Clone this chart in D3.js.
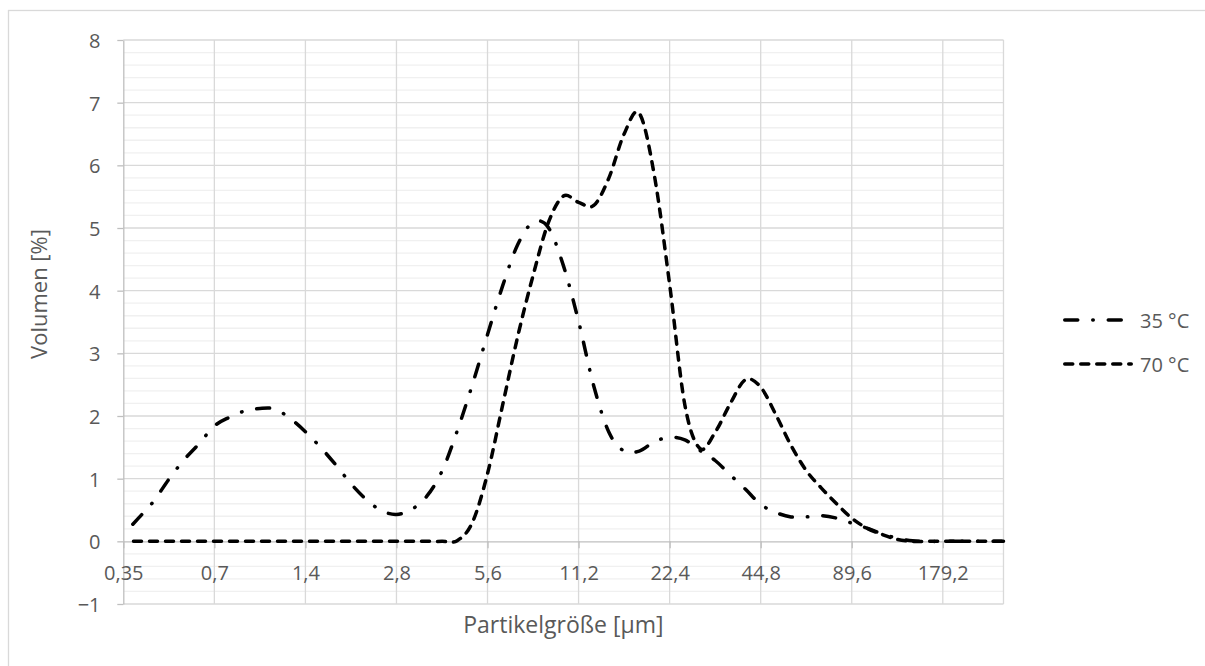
<!DOCTYPE html>
<html>
<head>
<meta charset="utf-8">
<script src="https://cdn.jsdelivr.net/npm/d3@7"></script>
<style>
    body { margin: 0; background: #fff; }
    svg text { font-family: "Open Sans", sans-serif; fill: #595959; }
</style>
</head>
<body>
<svg id="chart" width="1205" height="666"></svg>
<script>
// particle size classes (µm), Excel shows every 6th label
const categories = [
    "0,35", "0,39", "0,44", "0,5", "0,56", "0,62",
    "0,7", "0,79", "0,88", "0,99", "1,11", "1,25",
    "1,4", "1,57", "1,76", "1,98", "2,22", "2,49",
    "2,8", "3,14", "3,53", "3,96", "4,45", "4,99",
    "5,6", "6,29", "7,06", "7,92", "8,89", "9,98",
    "11,2", "12,57", "14,11", "15,84", "17,78", "19,96",
    "22,4", "25,14", "28,22", "31,68", "35,56", "39,91",
    "44,8", "50,29", "56,45", "63,36", "71,12", "79,82",
    "89,6", "100,6", "112,9", "126,7", "142,2", "159,6",
    "179,2", "201,1", "225,8", "253,4", "284,5"
];

const volume35 = [
    0.11, 0.37, 0.64, 0.99, 1.30, 1.56, 1.84, 1.98, 2.08, 2.12,
    2.11, 1.96, 1.75, 1.50, 1.22, 0.92, 0.67, 0.49, 0.43, 0.51,
    0.72, 1.12, 1.76, 2.50, 3.30, 4.08, 4.74, 5.09, 5.01, 4.40,
    3.51, 2.48, 1.74, 1.44, 1.44, 1.59, 1.66, 1.62, 1.45, 1.29,
    1.06, 0.83, 0.59, 0.46, 0.39, 0.39, 0.41, 0.37, 0.29, 0.21,
    0.12, 0.05, 0.01, 0, 0, 0, 0, 0, 0
];

const volume70 = [
    0, 0, 0, 0, 0, 0, 0, 0, 0, 0,
    0, 0, 0, 0, 0, 0, 0, 0, 0, 0,
    0, 0, 0.01, 0.30, 1.08, 2.18, 3.28, 4.24, 5.08, 5.51,
    5.41, 5.36, 5.80, 6.50, 6.83, 5.83, 4.10, 2.18, 1.48, 1.74,
    2.20, 2.58, 2.46, 2.02, 1.53, 1.13, 0.85, 0.60, 0.37, 0.21,
    0.11, 0.03, 0, 0, 0, 0, 0, 0, 0
];

const seriesNames = ["35 °C", "70 °C"];
const yTicks = [-1, 0, 1, 2, 3, 4, 5, 6, 7, 8];
const labelEvery = 6;

const svg = d3.select("#chart");
const plotLeft = 123.3, plotRight = 1003.5, plotTop = 40, plotBottom = 604;

const x = d3.scalePoint().domain(categories).range([plotLeft, plotRight]).padding(0);
const y = d3.scaleLinear().domain([-1, 8]).range([plotBottom, plotTop]);

// chart frame
svg.append("rect")
    .attr("x", 8.5).attr("y", 10.5)
    .attr("width", 1210).attr("height", 670)
    .attr("fill", "none").attr("stroke", "#d9d9d9").attr("stroke-width", 1.3);

// minor horizontal gridlines
const minor = y.ticks(45).filter(v => Math.abs(v - Math.round(v)) > 1e-6);
svg.append("g").selectAll("line").data(minor).join("line")
    .attr("x1", plotLeft).attr("x2", plotRight)
    .attr("y1", d => y(d)).attr("y2", d => y(d))
    .attr("stroke", "#f0f0f0").attr("stroke-width", 1.3);

// major horizontal gridlines
svg.append("g").selectAll("line").data(yTicks.filter(d => d !== 0)).join("line")
    .attr("x1", plotLeft).attr("x2", plotRight)
    .attr("y1", d => y(d)).attr("y2", d => y(d))
    .attr("stroke", "#d9d9d9").attr("stroke-width", 1.3);

// vertical gridlines at labelled categories
const labelCats = categories.filter((c, i) => i % labelEvery === 0);
svg.append("g").selectAll("line").data(labelCats.slice(1).concat([categories[categories.length - 1]])).join("line")
    .attr("x1", d => x(d)).attr("x2", d => x(d))
    .attr("y1", plotTop).attr("y2", plotBottom)
    .attr("stroke", "#d9d9d9").attr("stroke-width", 1.3);

// y axis
const yAxis = svg.append("g")
    .attr("transform", `translate(${plotLeft},0)`)
    .call(d3.axisLeft(y).tickValues(yTicks).tickSize(6).tickSizeOuter(0).tickPadding(16.8));
yAxis.select(".domain").attr("stroke", "#bfbfbf").attr("stroke-width", 1.3);
yAxis.selectAll(".tick line").attr("stroke", "#bfbfbf").attr("stroke-width", 1.3);
yAxis.selectAll(".tick text")
    .attr("dy", "0.37em")
    .style("font-size", "20px");

// x axis, crossing at 0
const xAxis = svg.append("g")
    .attr("transform", `translate(0,${y(0)})`)
    .call(d3.axisBottom(x).tickValues(labelCats).tickSize(7).tickSizeOuter(0));
xAxis.select(".domain").attr("stroke", "#bfbfbf").attr("stroke-width", 1.3);
xAxis.selectAll(".tick line").attr("stroke", "#bfbfbf").attr("stroke-width", 1.3);
xAxis.selectAll(".tick text")
    .attr("y", 580 - y(0))
    .attr("dy", null)
    .style("font-size", "20px");

// axis titles
svg.append("text")
    .attr("x", (plotLeft + plotRight) / 2).attr("y", 633)
    .attr("text-anchor", "middle")
    .style("font-size", "23px")
    .text("Partikelgröße [µm]");

svg.append("text")
    .attr("transform", "translate(47,294) rotate(-90)")
    .attr("text-anchor", "middle")
    .style("font-size", "22px")
    .text("Volumen [%]");

// series
const line = d3.line()
    .x((d, i) => x(categories[i]))
    .y(d => y(d))
    .curve(d3.curveCardinal.tension(0));

svg.append("defs").append("clipPath").attr("id", "plot-clip")
    .append("rect").attr("x", 130.5).attr("y", 0).attr("width", plotRight - 130.5 + 4).attr("height", 666);

const styles = [
    { dash: "13 15 0.5 15", offset: 29.5 },
    { dash: "8 8", offset: 5.8 }
];

const plot = svg.append("g").attr("clip-path", "url(#plot-clip)");
[volume35, volume70].forEach((values, k) => {
    plot.append("path")
        .attr("d", line(values))
        .attr("fill", "none")
        .attr("stroke", "#000")
        .attr("stroke-width", 3.5)
        .attr("stroke-linecap", "round")
        .attr("stroke-dasharray", styles[k].dash)
        .attr("stroke-dashoffset", styles[k].offset);
});

// legend
const legend = svg.append("g");
const legendY = [320, 364];
seriesNames.forEach((name, k) => {
    legend.append("line")
        .attr("x1", 1064.75).attr("x2", k === 0 ? 1121.25 : 1131.25)
        .attr("y1", legendY[k]).attr("y2", legendY[k])
        .attr("stroke", "#000")
        .attr("stroke-width", 3.5)
        .attr("stroke-linecap", "round")
        .attr("stroke-dasharray", styles[k].dash);
    legend.append("text")
        .attr("x", 1140).attr("y", legendY[k] + 7.5)
        .style("font-size", "20px")
        .text(name);
});
</script>
</body>
</html>
